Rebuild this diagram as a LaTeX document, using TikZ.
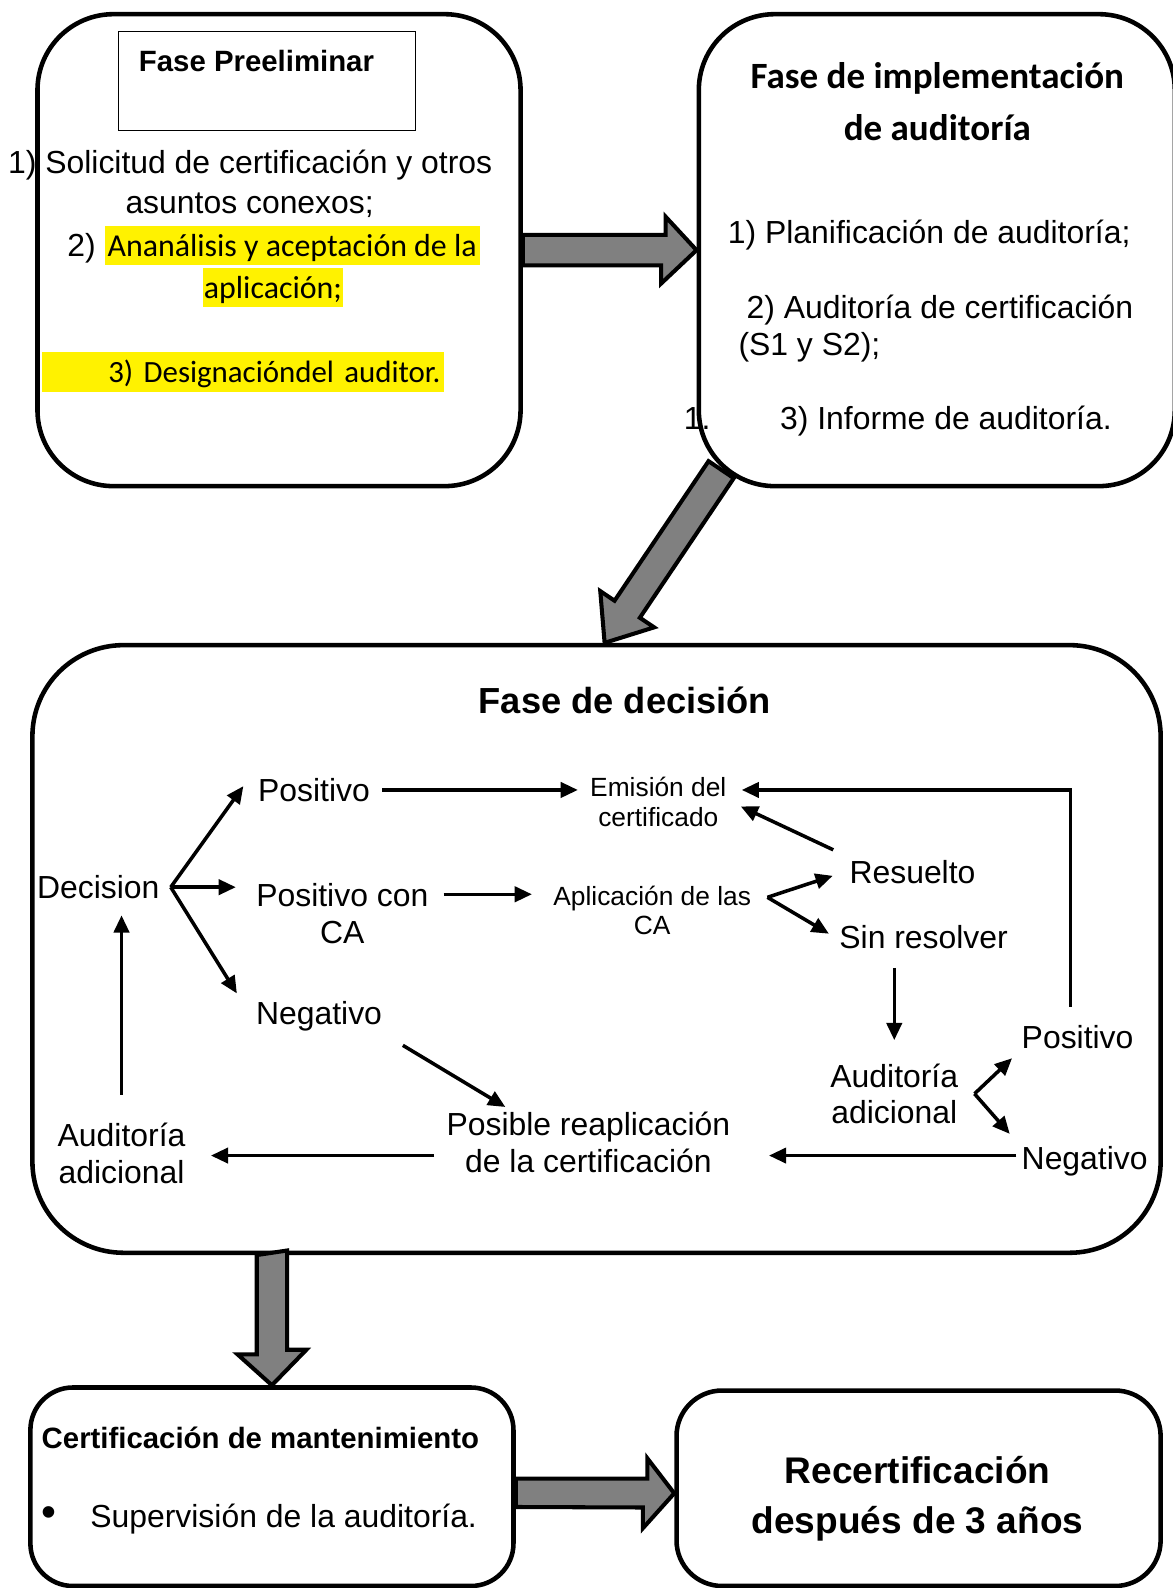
\documentclass[tikz,border=0pt]{standalone}
\usepackage{fontspec}
\setmainfont{Liberation Sans}
\newfontfamily\calibri{Carlito}
\usetikzlibrary{arrows.meta,calc}

\tikzstyle{phase}=[draw, line width=4.5pt, inner sep=0pt]
\tikzstyle{txt}=[font=\fontsize{31.5}{36}\selectfont, align=center, inner sep=5pt]
\tikzstyle{smalltxt}=[font=\fontsize{26}{29}\selectfont, align=center, inner sep=5pt]
\tikzstyle{hl}=[fill=yellow, font=\calibri\fontsize{31.5}{36}\selectfont, inner xsep=3pt, inner ysep=0pt, text height=30pt, text depth=9pt]
\tikzstyle{conn}=[line width=3.5pt, -{Triangle[length=17pt,width=15pt]}]
\tikzstyle{blockarrow}=[draw, line width=4pt, fill=black!50, line join=miter]

\begin{document}
\begin{tikzpicture}[x=1pt, y=-1pt]
\path[use as bounding box, fill=white] (0,0) rectangle (1158,1568);

% phases
\node[phase, rounded corners=75pt, minimum width=477pt, minimum height=466pt] (pre) at (275.5,247) {};
\node[phase, rounded corners=75pt, minimum width=470pt, minimum height=466pt] (impl) at (925,247) {};
\node[phase, rounded corners=90pt, minimum width=1114pt, minimum height=600pt] (dcs) at (589,937) {};
\node[phase, rounded corners=42pt, minimum width=477pt, minimum height=196pt] (mant) at (268.5,1468) {};
\node[phase, rounded corners=45pt, minimum width=478pt, minimum height=193pt] (recert) at (907,1469.5) {};

% block arrows between phases
\draw[blockarrow] ([yshift=15pt]pre.east) -- ++(141,0) -- ++(0,-18) -- (impl.west)
  -- ++(-35,33) -- ++(0,-18) -- ([yshift=-15pt]pre.east) -- cycle;
\draw[blockarrow] ([xshift=8pt]dcs.north) -- +(48.9,-15.3) -- +(34.8,-24.8) -- +(127.5,-162.6)
  -- +(102.6,-179.4) -- +(9.8,-41.6) -- +(-4.3,-51.1) -- cycle;
\draw[blockarrow] (dcs.south -| mant.north) ++(-15,0) -- ++(0,98) -- ++(-19,0) -- (mant.north)
  -- ++(34,-35) -- ++(-19,0) -- ++(0,-98) -- cycle;
\draw[blockarrow] ([yshift=8pt]mant.east) -- ++(130,0) -- ++(0,-20) -- ([yshift=-5pt]recert.west)
  -- ++(-31,34.5) -- ++(0,-20.5) -- ([yshift=-20pt]mant.east) -- cycle;

% fase preeliminar
\node[draw, line width=1.2pt, minimum width=293pt, minimum height=98pt] (pretl) at (263.5,80) {};
\node[font=\bfseries\fontsize{29}{33}\selectfont, anchor=west, inner sep=0pt] (prename) at (137,60) {Fase Preeliminar};
\node[txt] (s1) at (247,163) {1) Solicitud de certificación y otros};
\node[txt] (s1b) at (246.5,203) {asuntos conexos;};
\node[txt] (s2n) at (80.5,245) {2)};
\node[hl] (s2) at (288.5,242.5) {Ananálisis y aceptación de la};
\node[hl, inner xsep=0.5pt] (s2b) at (269.5,284) {aplicación;};
\node[hl, font=\calibri\fontsize{30.5}{36}\selectfont, text width=391pt, align=right] (s3) at (239.5,367.5) {3) Designacióndel auditor.};

% fase de implementacion
\node[font=\calibri\bfseries\fontsize{36.6}{51}\selectfont, align=center] (impltl) at (925.5,100.5) {Fase de implementación\\de auditoría};
\node[txt] (p1) at (917.5,232) {1) Planificación de auditoría;};
\node[txt, align=left, anchor=west, inner sep=0pt, font=\fontsize{31.5}{37}\selectfont] (p2) at (729,324.5) {\hspace*{8pt}2) Auditoría de certificación\\(S1 y S2);};
\node[txt] (p3n) at (688.5,413) {1.};
\node[txt] (p3) at (934,416) {3) Informe de auditoría.};

% fase de decision
\node[font=\bfseries\fontsize{35.8}{40}\selectfont] (dcstl) at (617,692) {Fase de decisión};
\node[txt] (dec) at (97,876) {Decision};
\node[txt] (pos) at (310,780) {Positivo};
\node[txt] (pca) at (338,902) {Positivo con\\CA};
\node[txt] (neg) at (315,1003) {Negativo};
\node[smalltxt] (emi) at (650,792) {Emisión del\\certificado};
\node[smalltxt] (apl) at (644,899) {Aplicación de las\\CA};
\node[txt] (res) at (901,861) {Resuelto};
\node[txt] (sinr) at (912,925) {Sin resolver};
\node[txt] (aud2) at (883,1080) {Auditoría\\adicional};
\node[txt] (pos2) at (1064,1024) {Positivo};
\node[txt] (neg2) at (1071,1147) {Negativo};
\node[txt] (reap) at (581,1128) {Posible reaplicación\\de la certificación};
\node[txt] (aud1) at (120,1139) {Auditoría\\adicional};

\coordinate (dfork) at ([xshift=6pt]dec.east);
\coordinate (afork) at ([xshift=11pt,yshift=13pt]apl.east);
\coordinate (afork2) at ([xshift=11pt]aud2.east);

\draw[conn, shorten >=16pt] (dfork) -- (pos.north west);
\draw[conn, shorten >=15pt] (dfork) -- (dfork -| pca.west);
\draw[conn, shorten >=26pt] (dfork) -- (neg.west);
\draw[conn, shorten <=7pt, shorten >=7pt] (pos.east) -- (pos.east -| emi.west);
\draw[conn, shorten <=10pt, shorten >=16pt] ([yshift=19pt]pca.east) -- ([yshift=19pt]pca.east -| apl.west);
\draw[conn, shorten >=12pt] (afork) -- (res.west);
\draw[conn, shorten >=6pt] (afork) -- (sinr.west);
\draw[conn, shorten <=12pt, shorten >=10pt] (res.north west) -- (emi.east);
\draw[conn, shorten <=14pt, shorten >=18pt] (sinr.south -| aud2.north) -- (aud2.north);
\draw[conn, shorten >=6pt] (afork2) -- (pos2.south west);
\draw[conn, shorten >=10pt] (afork2) -- (neg2.north west);
\draw[conn, shorten <=13pt, shorten >=10pt] ([xshift=-7pt]pos2.north) |- ([yshift=12pt]emi.east);
\draw[conn, shorten >=33pt] ([yshift=6pt]neg2.west) -- ([yshift=6pt]neg2.west -| reap.east);
\draw[conn, shorten <=18pt] (neg.south east) -- ([xshift=-82pt]reap.north);
\draw[conn, shorten <=7pt, shorten >=20pt] ([yshift=-13pt]reap.west) -- ([yshift=-13pt]reap.west -| aud1.east);
\draw[conn, shorten <=23pt, shorten >=11pt] (aud1.north) -- (aud1.north |- dec.south);

% certificacion de mantenimiento
\node[font=\bfseries\fontsize{29}{33}\selectfont, anchor=west, inner sep=0pt] (manttl) at (41,1420) {Certificación de mantenimiento};
\node[txt, font=\fontsize{42}{44}\selectfont] (mbul) at (48,1497) {•};
\node[txt, anchor=west, inner sep=0pt] (mitem) at (89,1500) {Supervisión de la auditoría.};

% recertificacion
\node[font=\bfseries\fontsize{36.6}{50}\selectfont, align=center] (recerttl) at (906,1480) {Recertificación\\después de 3 años};
\end{tikzpicture}
\end{document}
